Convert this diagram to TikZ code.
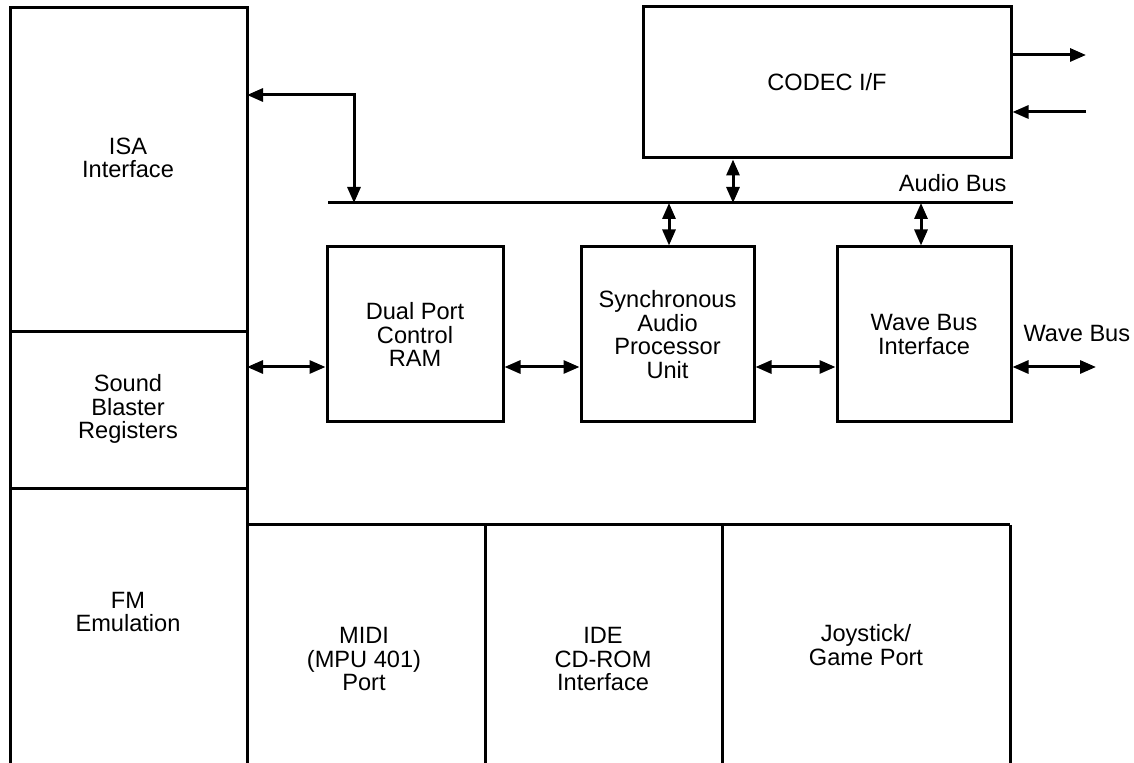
\documentclass[tikz,border=0pt]{standalone}
\usepackage{fontspec}
\setmainfont{Liberation Sans}
\usetikzlibrary{arrows.meta}

\begin{document}
\begin{tikzpicture}[x=0.5pt, y=-0.5pt, line width=1.5pt,
    lbl/.style={align=center, inner sep=0pt, font=\fontsize{11.8}{11.75}\selectfont},
    block/.style={lbl, draw, minimum height=87.5pt},
    dbl/.style={{Triangle[length=8pt, width=6.5pt]}-{Triangle[length=8pt, width=6.5pt]}},
    arr/.style={-{Triangle[length=8pt, width=6.5pt]}}]
    \useasboundingbox (0,0) rectangle (1134,763);

    % Left column and bottom row (open at the bottom)
    \draw (10,763) -- (10,8) -- (247,8) -- (247,763);
    \draw (10,332) -- (247,332);
    \draw (10,489) -- (247,489);
    \draw (247,525) -- (1010,525);
    \draw (485,525) -- (485,763);
    \draw (722,525) -- (722,763);
    \draw (1010,525) -- (1010,763);

    \node[lbl] at (128,158) (isa) {ISA\\Interface};
    \node[lbl] at (128,409) (sb) {Sound\\Blaster\\Registers};
    \node[lbl] at (128,612) (fm) {FM\\Emulation};
    \node[lbl] at (364,659) (midi) {MIDI\\(MPU 401)\\Port};
    \node[lbl] at (603,659) (ide) {IDE\\CD-ROM\\Interface};
    \node[lbl] at (866,645) (joy) {Joystick/\\Game Port};

    % Boxes
    \node[block, minimum width=88pt] at (415,334.5) (dpram) {Dual Port\\Control\\RAM};
    \node[block, minimum width=86.5pt] at (667.5,334.5) (sapu) {Synchronous\\Audio\\Processor\\Unit};
    \node[block, minimum width=87pt] at (924,334.5) (wbi) {Wave Bus\\Interface};
    \node[block, minimum width=184pt, minimum height=75.5pt] at (827,82.5) (codec) {CODEC I/F};

    % Audio bus
    \coordinate (busL) at (328,203);
    \coordinate (busR) at (1013,203);
    \draw (busL) -- (busR);
    \node[lbl, anchor=base east] at (1008,192) (audiobus) {Audio Bus};

    \coordinate (tapI) at (354,203);
    \coordinate (tapC) at (733,203);
    \coordinate (tapS) at (669,203);
    \coordinate (tapW) at (921,203);
    \coordinate (isaport) at (247,95);

    \draw[dbl] (isaport) -| (tapI);
    \draw[dbl] (tapC |- codec.south) -- (tapC);
    \draw[dbl] (tapS) -- (tapS |- sapu.north);
    \draw[dbl] (tapW) -- (tapW |- wbi.north);

    % Data path
    \coordinate (lane) at (247,367);
    \coordinate (waveout) at (1096,367);
    \draw[dbl] (lane) -- (lane -| dpram.west);
    \draw[dbl] (lane -| dpram.east) -- (lane -| sapu.west);
    \draw[dbl] (lane -| sapu.east) -- (lane -| wbi.west);
    \draw[dbl] (lane -| wbi.east) -- (waveout);
    \node[lbl, anchor=base west] at (1022,342) (wavebus) {Wave Bus};

    % CODEC lines
    \coordinate (codecout) at (1086,55);
    \coordinate (codecin) at (1086,112);
    \draw[arr] (codecout -| codec.east) -- (codecout);
    \draw[arr] (codecin) -- (codecin -| codec.east);

  \end{tikzpicture}
\end{document}
